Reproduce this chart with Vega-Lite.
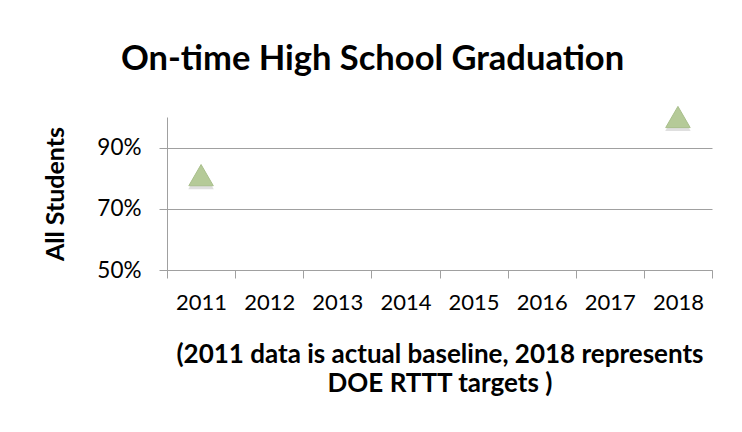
{
  "$schema": "https://vega.github.io/schema/vega-lite/v6.json",
  "width": 545,
  "height": 153,
  "autosize": "none",
  "padding": {"left": 167, "top": 117, "right": 30, "bottom": 162},
  "background": "white",
  "title": {
    "text": "On-time High School Graduation",
    "font": "Lato",
    "fontSize": 34.5,
    "fontWeight": "bold",
    "color": "#000000",
    "anchor": "middle",
    "frame": "group",
    "dx": -67,
    "offset": 27
  },
  "data": {
    "values": [
      {"year": "2011", "rate": 0.81},
      {"year": "2018", "rate": 1.0}
    ]
  },
  "encoding": {
    "x": {
      "field": "year",
      "type": "ordinal",
      "scale": {"type": "band", "domain": ["2011", "2012", "2013", "2014", "2015", "2016", "2017", "2018"], "paddingInner": 0, "paddingOuter": 0},
      "axis": {
        "title": ["(2011 data is actual baseline, 2018 represents", "DOE RTTT targets )"],
        "titleFont": "Lato",
        "titleFontSize": 26,
        "titleFontWeight": "bold",
        "titleColor": "#000000",
        "titleLineHeight": 29,
        "titlePadding": 28,
        "labelFont": "Lato",
        "labelFontSize": 22,
        "labelColor": "#000000",
        "labelAngle": 0,
        "labelPadding": 14,
        "tickBand": "extent",
        "tickSize": 8,
        "tickColor": "#a0a0a0",
        "domainColor": "#a0a0a0",
        "grid": false
      }
    },
    "y": {
      "field": "rate",
      "type": "quantitative",
      "scale": {"domain": [0.5, 1.0], "nice": false, "zero": false},
      "axis": {
        "title": "All Students",
        "titleFont": "Lato",
        "titleFontSize": 25,
        "titleFontWeight": "bold",
        "titleColor": "#000000",
        "titlePadding": 28,
        "values": [0.5, 0.7, 0.9],
        "format": ".0%",
        "labelFont": "Lato",
        "labelFontSize": 22.5,
        "labelColor": "#000000",
        "labelPadding": 18,
        "tickSize": 8,
        "tickColor": "#a0a0a0",
        "domainColor": "#a0a0a0",
        "grid": true,
        "gridColor": "#a0a0a0",
        "gridWidth": 1
      }
    }
  },
  "layer": [
    {
      "mark": {"type": "point", "shape": "triangle-up", "filled": true, "size": 650, "color": "#7f7f7f", "opacity": 0.25, "yOffset": 3, "clip": false}
    },
    {
      "mark": {"type": "point", "shape": "triangle-up", "filled": true, "size": 600, "color": "#b5ca98", "opacity": 1, "stroke": "#a9bf8c", "strokeWidth": 1, "clip": false}
    }
  ],
  "config": {
    "view": {"stroke": null},
    "axis": {"domainWidth": 1, "tickWidth": 1}
  }
}
